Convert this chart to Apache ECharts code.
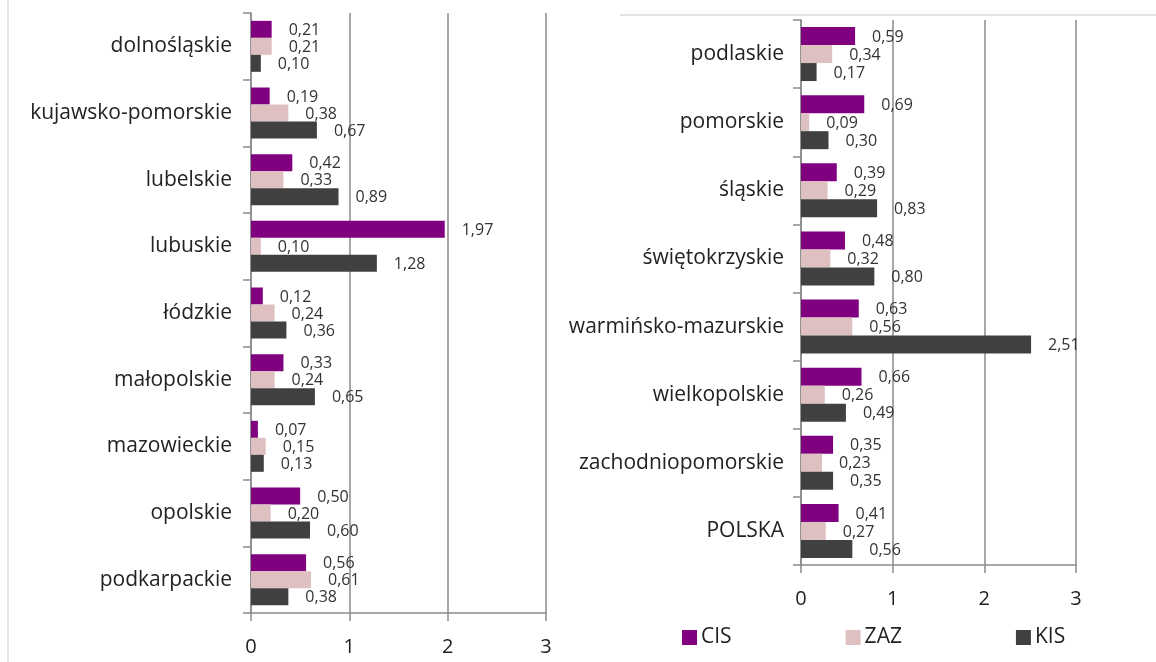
<!DOCTYPE html>
<html>
<head>
<meta charset="utf-8">
<script src="https://cdn.jsdelivr.net/npm/echarts@6/dist/echarts.min.js"></script>
<style>
  html, body { margin: 0; padding: 0; background: #fff; }
  #chart { width: 1156px; height: 662px; }
</style>
</head>
<body>
<div id="chart"></div>
<script>
// left panel regions
const leftRegions = ["dolnośląskie", "kujawsko-pomorskie", "lubelskie", "lubuskie", "łódzkie",
  "małopolskie", "mazowieckie", "opolskie", "podkarpackie"];
const leftCIS = [0.21, 0.19, 0.42, 1.97, 0.12, 0.33, 0.07, 0.50, 0.56];
const leftZAZ = [0.21, 0.38, 0.33, 0.10, 0.24, 0.24, 0.15, 0.20, 0.61];
const leftKIS = [0.10, 0.67, 0.89, 1.28, 0.36, 0.65, 0.13, 0.60, 0.38];

// right panel regions
const rightRegions = ["podlaskie", "pomorskie", "śląskie", "świętokrzyskie", "warmińsko-mazurskie",
  "wielkopolskie", "zachodniopomorskie", "POLSKA"];
const rightCIS = [0.59, 0.69, 0.39, 0.48, 0.63, 0.66, 0.35, 0.41];
const rightZAZ = [0.34, 0.09, 0.29, 0.32, 0.56, 0.26, 0.23, 0.27];
const rightKIS = [0.17, 0.30, 0.83, 0.80, 2.51, 0.49, 0.35, 0.56];

const seriesNames = ["CIS", "ZAZ", "KIS"];
const colors = ["#800080", "#dfc0c1", "#404040"];
const xTicks = [0, 3, 1]; // min, max, interval

const font = "Open Sans";
const gridColor = "#8a8a8a";

function xAxis(idx) {
  return {
    type: "value", gridIndex: idx, min: xTicks[0], max: xTicks[1], interval: xTicks[2],
    axisLine: { show: true, lineStyle: { color: gridColor, width: 1.5 } },
    axisTick: { show: true, length: 8, lineStyle: { color: gridColor, width: 1.5 } },
    splitLine: { show: true, lineStyle: { color: gridColor, width: 1.5 } },
    axisLabel: { fontFamily: font, fontSize: 20, color: "#222", margin: 24 }
  };
}
function yAxis(idx, cats, m) {
  return {
    type: "category", gridIndex: idx, data: cats, inverse: true,
    axisLine: { show: true, lineStyle: { color: gridColor, width: 1.5 } },
    axisTick: { show: true, length: 8, interval: 0, lineStyle: { color: gridColor, width: 1.5 } },
    axisLabel: { fontFamily: font, fontSize: 21, color: "#222", margin: m, interval: 0 }
  };
}
function bars(idx, vals, bw) {
  return vals.map(function (v, i) {
    return {
      name: seriesNames[i], type: "bar", xAxisIndex: idx, yAxisIndex: idx,
      data: v, barWidth: bw, barGap: "0%",
      itemStyle: { color: colors[i] },
      label: {
        show: true, position: "right", distance: 17, offset: [0, 1],
        fontFamily: font, fontSize: 16, color: "#333",
        formatter: function (p) { return p.value.toFixed(2).replace(".", ","); }
      }
    };
  });
}

const chart = echarts.init(document.getElementById("chart"));
chart.setOption({
  animation: false,
  grid: [
    { left: 251, top: 13, width: 295, height: 600 },
    { left: 801, top: 20, width: 275, height: 545 }
  ],
  xAxis: [xAxis(0), xAxis(1)],
  yAxis: [yAxis(0, leftRegions, 19), yAxis(1, rightRegions, 17)],
  legend: {
    data: seriesNames, left: 677, top: 622, itemGap: 114,
    icon: "rect", itemWidth: 15, itemHeight: 15,
    textStyle: { fontFamily: font, fontSize: 21, color: "#222", padding: [0, 0, 0, -1] }
  },
  graphic: [
    { type: "line", shape: { x1: 8, y1: 0, x2: 8, y2: 662 }, style: { stroke: "#dcdcdc", lineWidth: 1.5 } },
    { type: "line", shape: { x1: 620, y1: 15, x2: 1156, y2: 15 }, style: { stroke: "#dcdcdc", lineWidth: 1.5 } }
  ],
  series: bars(0, [leftCIS, leftZAZ, leftKIS], 17).concat(bars(1, [rightCIS, rightZAZ, rightKIS], 18))
});
</script>
</body>
</html>
